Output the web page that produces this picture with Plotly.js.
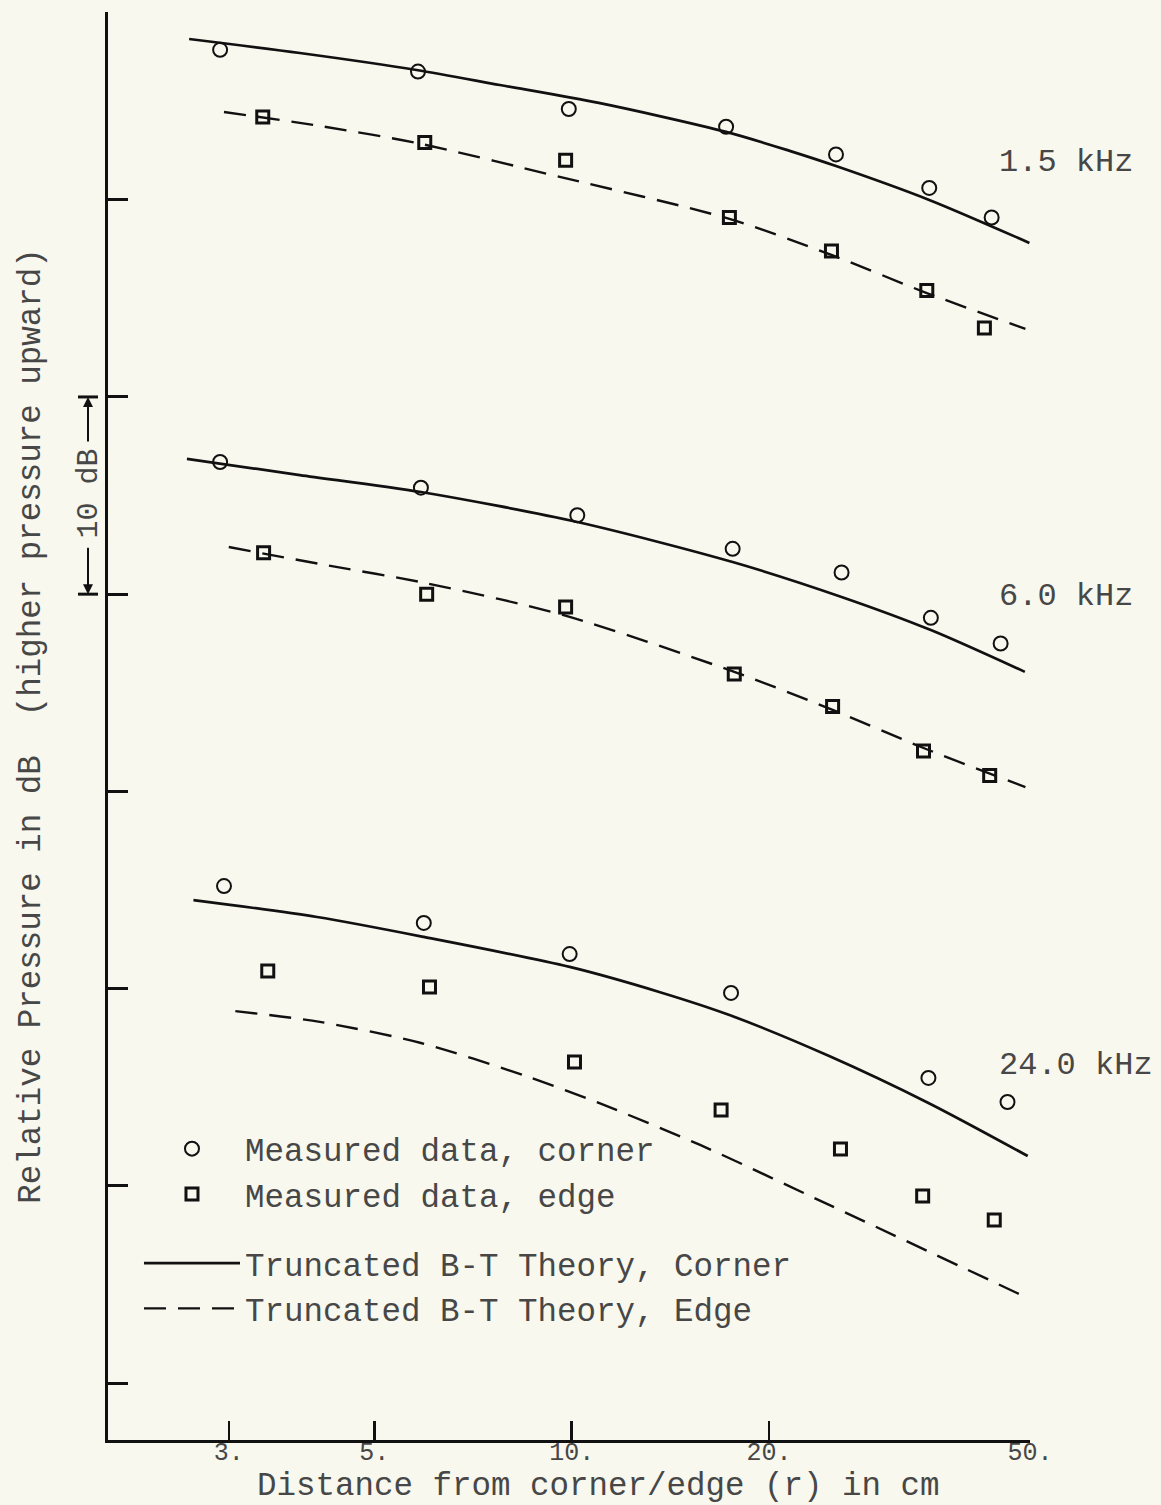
<!DOCTYPE html>
<html><head><meta charset="utf-8">
<script src="https://cdn.plot.ly/plotly-3.0.1.min.js"></script>
<style>html,body{margin:0;padding:0;background:#f8f8ee;} #chart{width:1161px;height:1505px;}</style>
</head><body><div id="chart"></div>
<script>
// ---------- data (r in cm, relative pressure in dB) ----------
const freqLabels = ['1.5 kHz', '6.0 kHz', '24.0 kHz'];
const freqLabelDb = [61.9, 39.9, 16.1];
const freqLabelR = 44.6;

// 1.5 kHz
const cornerMeasR15 = [2.91, 5.83, 9.90, 17.2, 25.3, 35.1, 43.7];
const cornerMeasDb15 = [67.6, 66.5, 64.6, 63.7, 62.3, 60.6, 59.1];
const edgeMeasR15 = [3.38, 5.97, 9.79, 17.4, 24.9, 34.8, 42.6];
const edgeMeasDb15 = [64.2, 62.9, 62.0, 59.1, 57.4, 55.4, 53.5];
const cornerTheoryR15 = [2.61, 3.85, 5.80, 7.77, 11.0, 17.2, 21.5, 25.3, 35.1, 49.9];
const cornerTheoryDb15 = [68.15, 67.44, 66.58, 65.82, 64.91, 63.44, 62.48, 61.71, 59.99, 57.81];
const edgeTheoryR15 = [2.95, 4.13, 5.80, 9.59, 17.4, 24.9, 34.8, 49.2];
const edgeTheoryDb15 = [64.45, 63.74, 62.88, 61.16, 59.03, 57.20, 55.27, 53.45];

// 6.0 kHz
const cornerMeasR6 = [2.91, 5.89, 10.2, 17.6, 25.8, 35.3, 45.1];
const cornerMeasDb6 = [46.7, 45.4, 44.0, 42.3, 41.1, 38.8, 37.5];
const edgeMeasR6 = [3.39, 6.01, 9.79, 17.7, 25.0, 34.4, 43.4];
const edgeMeasDb6 = [42.1, 40.0, 39.35, 35.95, 34.3, 32.05, 30.8];
const cornerTheoryR6 = [2.59, 3.85, 5.89, 10.2, 17.6, 25.8, 35.3, 49.1];
const cornerTheoryDb6 = [46.86, 46.04, 45.18, 43.66, 41.63, 39.86, 38.18, 36.06];
const edgeTheoryR6 = [3.0, 4.13, 5.97, 9.69, 17.7, 25.0, 34.4, 49.2];
const edgeTheoryDb6 = [42.39, 41.53, 40.57, 38.95, 36.06, 34.13, 32.20, 30.22];

// 24.0 kHz
const cornerMeasR24 = [2.95, 5.95, 9.93, 17.5, 35.0, 46.2];
const cornerMeasDb24 = [25.2, 23.33, 21.75, 19.78, 15.47, 14.25];
const edgeMeasR24 = [3.44, 6.07, 10.1, 16.9, 25.7, 34.3, 44.1];
const edgeMeasDb24 = [20.89, 20.08, 16.28, 13.84, 11.87, 9.48, 8.27];
const cornerTheoryR24 = [2.65, 4.09, 5.95, 9.93, 13.6, 17.4, 24.7, 35.0, 49.6];
const cornerTheoryDb24 = [24.49, 23.63, 22.62, 21.10, 19.83, 18.66, 16.58, 14.20, 11.51];
const edgeTheoryR24 = [3.07, 4.13, 5.89, 8.60, 11.0, 15.7, 24.7, 49.6];
const edgeTheoryDb24 = [18.86, 18.31, 17.24, 15.52, 14.20, 12.07, 9.03, 4.31];

// axes
const xTickVals = [3, 5, 10, 20, 50];
const xTickText = ['3.', '5.', '10.', '20.', '50.'];
const yTickVals = [0, 10, 20, 30, 40, 50, 60];

// ---------- styling ----------
const FONT = '"Liberation Mono", "Courier New", monospace';
const INK = '#111111';
const TEXT = '#474747';
const BG = '#f8f8ee';

const sets = [
  {cR: cornerMeasR15, cD: cornerMeasDb15, eR: edgeMeasR15, eD: edgeMeasDb15,
   tcR: cornerTheoryR15, tcD: cornerTheoryDb15, teR: edgeTheoryR15, teD: edgeTheoryDb15},
  {cR: cornerMeasR6, cD: cornerMeasDb6, eR: edgeMeasR6, eD: edgeMeasDb6,
   tcR: cornerTheoryR6, tcD: cornerTheoryDb6, teR: edgeTheoryR6, teD: edgeTheoryDb6},
  {cR: cornerMeasR24, cD: cornerMeasDb24, eR: edgeMeasR24, eD: edgeMeasDb24,
   tcR: cornerTheoryR24, tcD: cornerTheoryDb24, teR: edgeTheoryR24, teD: edgeTheoryDb24}
];

const traces = [];
sets.forEach((s, i) => {
  const first = i === 0;
  traces.push({
    x: s.tcR, y: s.tcD, mode: 'lines', type: 'scatter',
    name: 'Truncated B-T Theory, Corner', legendgroup: 'theory', legendrank: 3, showlegend: first,
    line: {color: INK, width: 2.7, shape: 'spline', smoothing: 0.8}
  });
  traces.push({
    x: s.teR, y: s.teD, mode: 'lines', type: 'scatter',
    name: 'Truncated B-T Theory, Edge', legendgroup: 'theory', legendrank: 4, showlegend: first,
    line: {color: INK, width: 2.4, dash: '22px,12px', shape: 'spline', smoothing: 0.8}
  });
  traces.push({
    x: s.cR, y: s.cD, mode: 'markers', type: 'scatter',
    name: 'Measured data, corner', legendgroup: 'measured', legendrank: 1, showlegend: first,
    marker: {symbol: 'circle-open', size: 14, color: INK, line: {color: INK, width: 2}}
  });
  traces.push({
    x: s.eR, y: s.eD, mode: 'markers', type: 'scatter',
    name: 'Measured data, edge', legendgroup: 'measured', legendrank: 2, showlegend: first,
    marker: {symbol: 'square-open', size: 12, color: INK, line: {color: INK, width: 3}}
  });
});

const L = 108, R = 130.5, T = 12, B = 65;
const plotW = 1161 - L - R;
const plotH = 1505 - T - B;
const px2paperX = p => (p - L) / plotW;

const annotations = freqLabels.map((t, i) => ({
  x: Math.log10(freqLabelR), y: freqLabelDb[i], xref: 'x', yref: 'y',
  text: t, showarrow: false, xanchor: 'left', yanchor: 'middle',
  font: {family: FONT, size: 32, color: TEXT}
}));

// "10 dB" scale marker
annotations.push({
  x: px2paperX(89), y: 45.1, xref: 'paper', yref: 'y', text: '10 dB', textangle: -90,
  xanchor: 'center', yanchor: 'middle',
  showarrow: false, font: {family: FONT, size: 30, color: TEXT}
});
annotations.push({
  x: px2paperX(88), y: 50, xref: 'paper', yref: 'y', text: '', showarrow: true,
  ax: 0, ay: 46, arrowhead: 2, arrowsize: 1, arrowwidth: 2, arrowcolor: INK, standoff: 0
});
annotations.push({
  x: px2paperX(88), y: 40, xref: 'paper', yref: 'y', text: '', showarrow: true,
  ax: 0, ay: -48, arrowhead: 2, arrowsize: 1, arrowwidth: 2, arrowcolor: INK, standoff: 0
});

const shapes = [50, 40].map(v => ({
  type: 'line', xref: 'paper', yref: 'y', x0: px2paperX(78), x1: px2paperX(98), y0: v, y1: v,
  line: {color: INK, width: 3}
}));

// legend top edge in pixels -> paper fraction
const legendTopPx = 1121;

const layout = {
  width: 1161, height: 1505,
  margin: {l: L, r: R, t: T, b: B, pad: 0},
  paper_bgcolor: BG, plot_bgcolor: BG,
  showlegend: true,
  hovermode: false,
  font: {family: FONT, color: TEXT},
  xaxis: {
    type: 'log', range: [Math.log10(1.963), Math.log10(50)],
    tickmode: 'array', tickvals: xTickVals, ticktext: xTickText,
    ticks: 'inside', ticklen: 19, tickwidth: 2.5, tickcolor: INK,
    ticklabelstandoff: -13,
    showline: true, linewidth: 3, linecolor: INK, mirror: false,
    showgrid: false, zeroline: false, automargin: false,
    tickfont: {family: FONT, size: 25, color: TEXT},
    title: {text: '\u200b\u00a0\u00a0\u00a0Distance from corner/edge (r) in cm', standoff: 45,
            font: {family: FONT, size: 32.5, color: TEXT}}
  },
  yaxis: {
    range: [-2.89, 69.52],
    tickmode: 'array', tickvals: yTickVals, showticklabels: false,
    ticks: 'inside', ticklen: 20, tickwidth: 3, tickcolor: INK,
    showline: true, linewidth: 3, linecolor: INK, mirror: false,
    showgrid: false, zeroline: false, automargin: false,
    title: {text: 'Relative Pressure in dB\u00a0\u00a0(higher pressure upward)', standoff: 55,
            font: {family: FONT, size: 32.5, color: TEXT}}
  },
  legend: {
    x: px2paperX(139), xanchor: 'left', y: (1505 - B - legendTopPx) / plotH, yanchor: 'top',
    bgcolor: 'rgba(0,0,0,0)', borderwidth: 0,
    font: {family: FONT, size: 32.5, color: TEXT},
    itemwidth: 96, tracegroupgap: 24, traceorder: 'grouped'
  },
  annotations: annotations,
  shapes: shapes
};

Plotly.newPlot('chart', traces, layout, {staticPlot: true, displayModeBar: false});
</script></body></html>
